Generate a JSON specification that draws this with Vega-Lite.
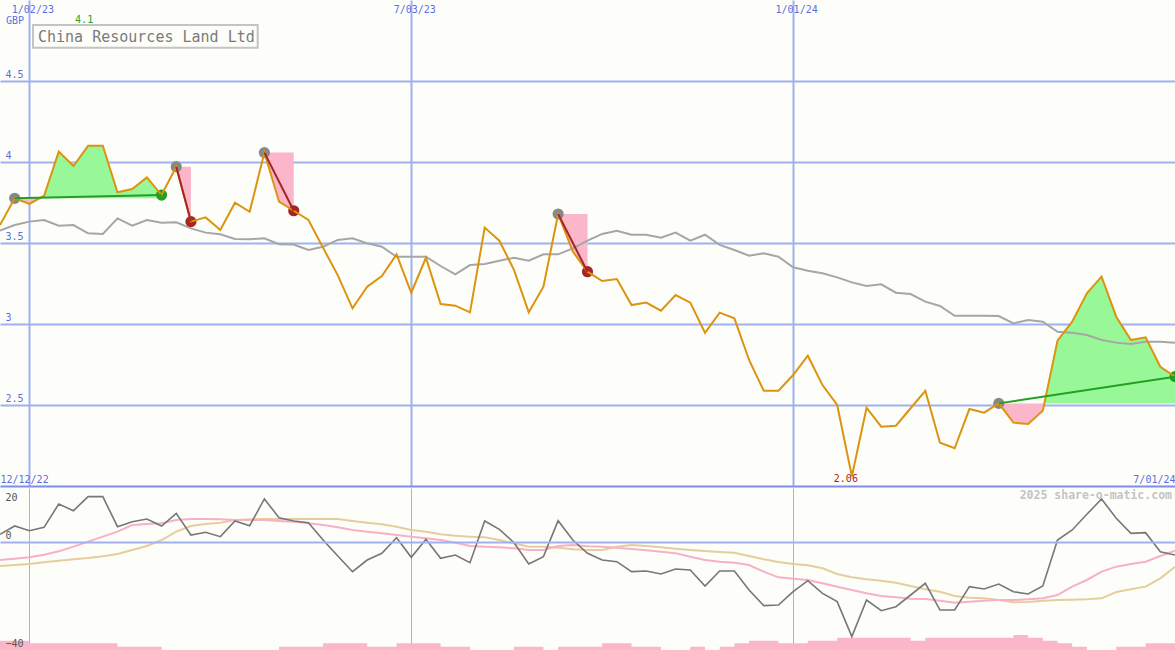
{
  "$schema": "https://vega.github.io/schema/vega-lite/v6.json",
  "background": "#fdfef9",
  "padding": 0,
  "spacing": 2,
  "bounds": "flush",
  "config": {
    "view": {"stroke": null},
    "axis": {"domain": false, "ticks": false, "tickSize": 0, "labelFont": "DejaVu Sans Mono", "labelFontSize": 10, "labelColor": "#5b6ee1", "gridColor": "#a0b0f0", "labelOverlap": false, "titlePadding": 0, "minExtent": 0}
  },
  "datasets": {
    "weekly": [
      {"d":"2022-12-19","price":3.611,"ma":3.576,"osc":2.84,"s1":-6.67,"s2":-8.89,"vol":28},
      {"d":"2022-12-26","price":3.776,"ma":3.611,"osc":5.93,"s1":-6.17,"s2":-8.52,"vol":28},
      {"d":"2023-01-02","price":3.741,"ma":3.632,"osc":4.2,"s1":-5.68,"s2":-8.15,"vol":20},
      {"d":"2023-01-09","price":3.792,"ma":3.642,"osc":5.43,"s1":-4.69,"s2":-7.53,"vol":20},
      {"d":"2023-01-16","price":4.064,"ma":3.607,"osc":14.07,"s1":-3.46,"s2":-6.91,"vol":20},
      {"d":"2023-01-23","price":3.975,"ma":3.611,"osc":11.6,"s1":-1.73,"s2":-6.42,"vol":20},
      {"d":"2023-01-30","price":4.1,"ma":3.56,"osc":16.79,"s1":0.12,"s2":-5.93,"vol":20},
      {"d":"2023-02-06","price":4.1,"ma":3.556,"osc":16.79,"s1":1.98,"s2":-5.31,"vol":20},
      {"d":"2023-02-13","price":3.813,"ma":3.652,"osc":5.68,"s1":3.83,"s2":-4.44,"vol":10},
      {"d":"2023-02-20","price":3.833,"ma":3.607,"osc":7.53,"s1":6.3,"s2":-2.96,"vol":10},
      {"d":"2023-02-27","price":3.905,"ma":3.642,"osc":8.52,"s1":6.67,"s2":-1.48,"vol":10},
      {"d":"2023-03-06","price":3.796,"ma":3.625,"osc":5.93,"s1":6.91,"s2":0.74,"vol":0},
      {"d":"2023-03-13","price":3.971,"ma":3.628,"osc":10.62,"s1":8.15,"s2":3.83,"vol":0},
      {"d":"2023-03-20","price":3.632,"ma":3.59,"osc":2.59,"s1":8.52,"s2":5.93,"vol":0},
      {"d":"2023-03-27","price":3.658,"ma":3.564,"osc":3.58,"s1":8.52,"s2":6.67,"vol":0},
      {"d":"2023-04-03","price":3.58,"ma":3.554,"osc":1.98,"s1":8.4,"s2":7.16,"vol":0},
      {"d":"2023-04-10","price":3.749,"ma":3.525,"osc":7.78,"s1":8.15,"s2":8.15,"vol":0},
      {"d":"2023-04-17","price":3.693,"ma":3.523,"osc":6.05,"s1":8.15,"s2":8.4,"vol":0},
      {"d":"2023-04-24","price":4.058,"ma":3.529,"osc":15.93,"s1":8.15,"s2":8.52,"vol":0},
      {"d":"2023-05-01","price":3.755,"ma":3.492,"osc":9.01,"s1":7.78,"s2":8.52,"vol":10},
      {"d":"2023-05-08","price":3.699,"ma":3.49,"osc":7.78,"s1":7.53,"s2":8.52,"vol":10},
      {"d":"2023-05-15","price":3.642,"ma":3.457,"osc":7.16,"s1":6.91,"s2":8.52,"vol":10},
      {"d":"2023-05-22","price":3.47,"ma":3.477,"osc":0.74,"s1":6.3,"s2":8.52,"vol":20},
      {"d":"2023-05-29","price":3.3,"ma":3.519,"osc":-5.19,"s1":5.43,"s2":8.52,"vol":20},
      {"d":"2023-06-05","price":3.097,"ma":3.529,"osc":-10.99,"s1":4.44,"s2":7.78,"vol":20},
      {"d":"2023-06-12","price":3.23,"ma":3.498,"osc":-6.67,"s1":3.83,"s2":7.16,"vol":10},
      {"d":"2023-06-19","price":3.296,"ma":3.477,"osc":-4.2,"s1":3.21,"s2":6.54,"vol":10},
      {"d":"2023-06-26","price":3.43,"ma":3.415,"osc":1.6,"s1":2.59,"s2":5.68,"vol":20},
      {"d":"2023-07-03","price":3.193,"ma":3.415,"osc":-5.68,"s1":1.98,"s2":4.44,"vol":20},
      {"d":"2023-07-10","price":3.409,"ma":3.415,"osc":0.99,"s1":1.36,"s2":3.83,"vol":20},
      {"d":"2023-07-17","price":3.123,"ma":3.358,"osc":-6.05,"s1":0.74,"s2":2.84,"vol":10},
      {"d":"2023-07-24","price":3.113,"ma":3.307,"osc":-4.81,"s1":-0.25,"s2":2.35,"vol":10},
      {"d":"2023-07-31","price":3.072,"ma":3.364,"osc":-7.65,"s1":-1.48,"s2":1.98,"vol":0},
      {"d":"2023-08-07","price":3.595,"ma":3.37,"osc":7.78,"s1":-1.73,"s2":1.73,"vol":0},
      {"d":"2023-08-14","price":3.514,"ma":3.391,"osc":4.69,"s1":-1.98,"s2":0.74,"vol":0},
      {"d":"2023-08-21","price":3.333,"ma":3.409,"osc":-0.25,"s1":-2.35,"s2":-0.49,"vol":10},
      {"d":"2023-08-28","price":3.072,"ma":3.391,"osc":-8.15,"s1":-2.96,"s2":-1.73,"vol":10},
      {"d":"2023-09-04","price":3.23,"ma":3.43,"osc":-5.43,"s1":-2.96,"s2":-1.73,"vol":0},
      {"d":"2023-09-11","price":3.679,"ma":3.43,"osc":7.9,"s1":-1.48,"s2":-2.1,"vol":10},
      {"d":"2023-09-18","price":3.447,"ma":3.467,"osc":0.74,"s1":-1.11,"s2":-2.72,"vol":10},
      {"d":"2023-09-25","price":3.323,"ma":3.515,"osc":-4.2,"s1":-1.55,"s2":-3.0,"vol":10},
      {"d":"2023-10-02","price":3.265,"ma":3.556,"osc":-6.67,"s1":-1.73,"s2":-2.96,"vol":20},
      {"d":"2023-10-09","price":3.278,"ma":3.576,"osc":-7.28,"s1":-2.1,"s2":-1.73,"vol":20},
      {"d":"2023-10-16","price":3.117,"ma":3.551,"osc":-10.99,"s1":-2.59,"s2":-1.11,"vol":10},
      {"d":"2023-10-23","price":3.132,"ma":3.551,"osc":-10.74,"s1":-3.09,"s2":-1.48,"vol":10},
      {"d":"2023-10-30","price":3.082,"ma":3.533,"osc":-11.85,"s1":-3.58,"s2":-1.98,"vol":0},
      {"d":"2023-11-06","price":3.179,"ma":3.564,"osc":-10.0,"s1":-4.2,"s2":-2.47,"vol":0},
      {"d":"2023-11-13","price":3.132,"ma":3.514,"osc":-10.37,"s1":-5.43,"s2":-2.96,"vol":10},
      {"d":"2023-11-20","price":2.946,"ma":3.551,"osc":-16.3,"s1":-6.67,"s2":-3.33,"vol":0},
      {"d":"2023-11-27","price":3.07,"ma":3.488,"osc":-10.74,"s1":-7.28,"s2":-3.7,"vol":10},
      {"d":"2023-12-04","price":3.035,"ma":3.457,"osc":-10.74,"s1":-7.65,"s2":-3.95,"vol":20},
      {"d":"2023-12-11","price":2.778,"ma":3.422,"osc":-17.78,"s1":-8.52,"s2":-5.19,"vol":28},
      {"d":"2023-12-18","price":2.588,"ma":3.436,"osc":-23.58,"s1":-10.99,"s2":-6.42,"vol":28},
      {"d":"2023-12-25","price":2.588,"ma":3.415,"osc":-23.33,"s1":-13.09,"s2":-7.41,"vol":20},
      {"d":"2024-01-01","price":2.685,"ma":3.35,"osc":-18.4,"s1":-13.58,"s2":-8.15,"vol":20},
      {"d":"2024-01-08","price":2.804,"ma":3.329,"osc":-14.32,"s1":-14.07,"s2":-8.64,"vol":28},
      {"d":"2024-01-15","price":2.623,"ma":3.313,"osc":-19.01,"s1":-15.31,"s2":-9.75,"vol":28},
      {"d":"2024-01-22","price":2.5,"ma":3.288,"osc":-22.1,"s1":-16.54,"s2":-11.85,"vol":37},
      {"d":"2024-01-29","price":2.06,"ma":3.257,"osc":-35.06,"s1":-17.78,"s2":-13.09,"vol":37},
      {"d":"2024-02-05","price":2.483,"ma":3.235,"osc":-21.48,"s1":-19.01,"s2":-13.83,"vol":37},
      {"d":"2024-02-12","price":2.366,"ma":3.245,"osc":-25.43,"s1":-20.0,"s2":-14.32,"vol":37},
      {"d":"2024-02-19","price":2.372,"ma":3.193,"osc":-23.95,"s1":-20.49,"s2":-15.06,"vol":37},
      {"d":"2024-02-26","price":2.48,"ma":3.185,"osc":-19.63,"s1":-20.99,"s2":-16.3,"vol":28},
      {"d":"2024-03-04","price":2.588,"ma":3.138,"osc":-15.31,"s1":-21.11,"s2":-17.53,"vol":37},
      {"d":"2024-03-11","price":2.267,"ma":3.111,"osc":-25.19,"s1":-21.73,"s2":-18.4,"vol":37},
      {"d":"2024-03-18","price":2.233,"ma":3.051,"osc":-25.19,"s1":-22.47,"s2":-20.0,"vol":37},
      {"d":"2024-03-25","price":2.475,"ma":3.051,"osc":-16.54,"s1":-22.1,"s2":-20.62,"vol":37},
      {"d":"2024-04-01","price":2.453,"ma":3.051,"osc":-17.41,"s1":-21.73,"s2":-20.86,"vol":37},
      {"d":"2024-04-08","price":2.51,"ma":3.049,"osc":-15.56,"s1":-21.48,"s2":-21.48,"vol":37},
      {"d":"2024-04-15","price":2.391,"ma":3.004,"osc":-18.4,"s1":-21.48,"s2":-22.35,"vol":45},
      {"d":"2024-04-22","price":2.383,"ma":3.025,"osc":-19.26,"s1":-21.23,"s2":-22.22,"vol":37},
      {"d":"2024-04-29","price":2.465,"ma":3.014,"osc":-16.3,"s1":-20.86,"s2":-21.73,"vol":28},
      {"d":"2024-05-06","price":2.897,"ma":2.952,"osc":0.74,"s1":-19.63,"s2":-21.48,"vol":20},
      {"d":"2024-05-13","price":3.014,"ma":2.946,"osc":4.44,"s1":-16.54,"s2":-21.36,"vol":10},
      {"d":"2024-05-20","price":3.189,"ma":2.932,"osc":10.25,"s1":-14.07,"s2":-21.23,"vol":0},
      {"d":"2024-05-27","price":3.292,"ma":2.901,"osc":15.93,"s1":-10.99,"s2":-20.86,"vol":0},
      {"d":"2024-06-03","price":3.045,"ma":2.885,"osc":8.77,"s1":-9.14,"s2":-18.52,"vol":10},
      {"d":"2024-06-10","price":2.901,"ma":2.877,"osc":3.21,"s1":-8.15,"s2":-17.53,"vol":10},
      {"d":"2024-06-17","price":2.918,"ma":2.891,"osc":3.46,"s1":-7.28,"s2":-16.54,"vol":20},
      {"d":"2024-06-24","price":2.736,"ma":2.891,"osc":-3.58,"s1":-5.19,"s2":-13.46,"vol":20},
      {"d":"2024-07-01","price":2.675,"ma":2.885,"osc":-4.81,"s1":-3.21,"s2":-9.14,"vol":20}
    ],
    "fills": [
      {"d":"2022-12-26","hi":3.776,"lo":3.776,"kind":"down","zone":"A"},
      {"d":"2023-01-02","hi":3.776,"lo":3.741,"kind":"down","zone":"A"},
      {"d":"2023-01-06T19:12:00Z","hi":3.776,"lo":3.776,"kind":"down","zone":"A"},
      {"d":"2023-01-06T19:12:00Z","hi":3.776,"lo":3.776,"kind":"up","zone":"A"},
      {"d":"2023-01-09","hi":3.792,"lo":3.776,"kind":"up","zone":"A"},
      {"d":"2023-01-16","hi":4.064,"lo":3.776,"kind":"up","zone":"A"},
      {"d":"2023-01-23","hi":3.975,"lo":3.776,"kind":"up","zone":"A"},
      {"d":"2023-01-30","hi":4.1,"lo":3.776,"kind":"up","zone":"A"},
      {"d":"2023-02-06","hi":4.1,"lo":3.776,"kind":"up","zone":"A"},
      {"d":"2023-02-13","hi":3.813,"lo":3.776,"kind":"up","zone":"A"},
      {"d":"2023-02-20","hi":3.833,"lo":3.776,"kind":"up","zone":"A"},
      {"d":"2023-02-27","hi":3.905,"lo":3.776,"kind":"up","zone":"A"},
      {"d":"2023-03-06","hi":3.796,"lo":3.776,"kind":"up","zone":"A"},
      {"d":"2023-03-13","hi":3.971,"lo":3.971,"kind":"down","zone":"B"},
      {"d":"2023-03-20","hi":3.971,"lo":3.632,"kind":"down","zone":"B"},
      {"d":"2023-04-24","hi":4.058,"lo":4.058,"kind":"down","zone":"C"},
      {"d":"2023-05-01","hi":4.058,"lo":3.755,"kind":"down","zone":"C"},
      {"d":"2023-05-08","hi":4.058,"lo":3.699,"kind":"down","zone":"C"},
      {"d":"2023-09-11","hi":3.679,"lo":3.679,"kind":"down","zone":"D"},
      {"d":"2023-09-18","hi":3.679,"lo":3.447,"kind":"down","zone":"D"},
      {"d":"2023-09-25","hi":3.679,"lo":3.323,"kind":"down","zone":"D"},
      {"d":"2024-04-08","hi":2.51,"lo":2.51,"kind":"down","zone":"E"},
      {"d":"2024-04-15","hi":2.51,"lo":2.391,"kind":"down","zone":"E"},
      {"d":"2024-04-22","hi":2.51,"lo":2.383,"kind":"down","zone":"E"},
      {"d":"2024-04-29","hi":2.51,"lo":2.465,"kind":"down","zone":"E"},
      {"d":"2024-04-29T17:28:00Z","hi":2.51,"lo":2.51,"kind":"down","zone":"E"},
      {"d":"2024-04-29T17:28:00Z","hi":2.51,"lo":2.51,"kind":"up","zone":"E"},
      {"d":"2024-05-06","hi":2.897,"lo":2.51,"kind":"up","zone":"E"},
      {"d":"2024-05-13","hi":3.014,"lo":2.51,"kind":"up","zone":"E"},
      {"d":"2024-05-20","hi":3.189,"lo":2.51,"kind":"up","zone":"E"},
      {"d":"2024-05-27","hi":3.292,"lo":2.51,"kind":"up","zone":"E"},
      {"d":"2024-06-03","hi":3.045,"lo":2.51,"kind":"up","zone":"E"},
      {"d":"2024-06-10","hi":2.901,"lo":2.51,"kind":"up","zone":"E"},
      {"d":"2024-06-17","hi":2.918,"lo":2.51,"kind":"up","zone":"E"},
      {"d":"2024-06-24","hi":2.736,"lo":2.51,"kind":"up","zone":"E"},
      {"d":"2024-07-01","hi":2.675,"lo":2.51,"kind":"up","zone":"E"}
    ],
    "trends": [
      {"d":"2022-12-26","v":3.776,"kind":"up","zone":"A"},
      {"d":"2023-03-06","v":3.796,"kind":"up","zone":"A"},
      {"d":"2023-03-13","v":3.971,"kind":"down","zone":"B"},
      {"d":"2023-03-20","v":3.632,"kind":"down","zone":"B"},
      {"d":"2023-04-24","v":4.058,"kind":"down","zone":"C"},
      {"d":"2023-05-08","v":3.699,"kind":"down","zone":"C"},
      {"d":"2023-09-11","v":3.679,"kind":"down","zone":"D"},
      {"d":"2023-09-25","v":3.323,"kind":"down","zone":"D"},
      {"d":"2024-04-08","v":2.51,"kind":"up","zone":"E"},
      {"d":"2024-07-01","v":2.675,"kind":"up","zone":"E"}
    ],
    "marks": [
      {"d":"2022-12-26","v":3.776,"kind":"start"},
      {"d":"2023-03-06","v":3.796,"kind":"up"},
      {"d":"2023-03-13","v":3.971,"kind":"start"},
      {"d":"2023-03-20","v":3.632,"kind":"down"},
      {"d":"2023-04-24","v":4.058,"kind":"start"},
      {"d":"2023-05-08","v":3.699,"kind":"down"},
      {"d":"2023-09-11","v":3.679,"kind":"start"},
      {"d":"2023-09-25","v":3.323,"kind":"down"},
      {"d":"2024-04-08","v":2.51,"kind":"start"},
      {"d":"2024-07-01","v":2.675,"kind":"up"}
    ]
  },
  "vconcat": [
    {
      "width": 1175,
      "height": 486,
      "layer": [
        {
          "data": {"name": "fills"},
          "mark": {"type": "area", "opacity": 1, "clip": true},
          "encoding": {
            "x": {
              "field": "d", "type": "temporal",
              "scale": {"type": "utc", "nice": false, "domain": [1671408000000, 1719792000000]},
              "axis": {
                "orient": "top", "title": null, "grid": true, "gridWidth": 2,
                "values": [1672617600000, 1688342400000, 1704067200000],
                "labelExpr": "utcFormat(datum.value, '%-m/%d/%y')",
                "labelBaseline": "middle", "labelPadding": -9, "labelOffset": 3
              }
            },
            "y": {
              "field": "hi", "type": "quantitative", "stack": null,
              "scale": {"domain": [2, 5], "nice": false, "zero": false},
              "axis": {
                "values": [2, 2.5, 3, 3.5, 4, 4.5], "format": "~g",
                "labelExpr": "datum.value == 2 ? '' : datum.label",
                "grid": true, "gridWidth": 2,
                "gridColor": {"condition": {"test": "datum.value == 2", "value": "#7d8ef0"}, "value": "#a0b0f0"},
                "labelAlign": "left", "labelBaseline": "middle", "labelPadding": -5, "labelOffset": -7,
                "title": null
              }
            },
            "y2": {"field": "lo"},
            "color": {"field": "kind", "type": "nominal", "scale": {"domain": ["up", "down"], "range": ["#98f898", "#fbb6c9"]}, "legend": null},
            "detail": {"field": "zone"}
          }
        },
        {
          "data": {"name": "weekly"},
          "mark": {"type": "line", "color": "#a6a6a6", "strokeWidth": 2, "clip": true},
          "encoding": {
            "x": {"field": "d", "type": "temporal"},
            "y": {"field": "ma", "type": "quantitative"}
          }
        },
        {
          "data": {"name": "marks"},
          "mark": {"type": "circle", "size": 125, "opacity": 1, "clip": true},
          "encoding": {
            "x": {"field": "d", "type": "temporal"},
            "y": {"field": "v", "type": "quantitative"},
            "color": {"field": "kind", "type": "nominal", "scale": {"domain": ["start", "up", "down"], "range": ["#888888", "#22a022", "#a52525"]}, "legend": null}
          }
        },
        {
          "data": {"name": "weekly"},
          "mark": {"type": "line", "color": "#dc9410", "strokeWidth": 2, "clip": true},
          "encoding": {
            "x": {"field": "d", "type": "temporal"},
            "y": {"field": "price", "type": "quantitative"}
          }
        },
        {
          "data": {"name": "trends"},
          "mark": {"type": "line", "strokeWidth": 2, "clip": true},
          "encoding": {
            "x": {"field": "d", "type": "temporal"},
            "y": {"field": "v", "type": "quantitative"},
            "color": {"field": "kind", "type": "nominal", "scale": {"domain": ["up", "down"], "range": ["#22a022", "#a52525"]}, "legend": null},
            "detail": {"field": "zone"}
          }
        },
        {
          "data": {"values": [{"d": "2023-01-30", "v": 4.1}]},
          "mark": {"type": "text", "font": "DejaVu Sans Mono", "fontSize": 10, "color": "#2e9e2e", "align": "center", "baseline": "middle", "dx": -4},
          "encoding": {
            "x": {"field": "d", "type": "temporal"},
            "y": {"datum": 4.8765, "type": "quantitative"},
            "text": {"field": "v", "type": "quantitative", "format": "~g"}
          }
        },
        {
          "data": {"values": [{"d": "2024-01-29", "v": 2.06}]},
          "mark": {"type": "text", "font": "DejaVu Sans Mono", "fontSize": 10, "color": "#a52525", "align": "center", "baseline": "middle", "dx": -6},
          "encoding": {
            "x": {"field": "d", "type": "temporal"},
            "y": {"datum": 2.0432, "type": "quantitative"},
            "text": {"field": "v", "type": "quantitative", "format": "~g"}
          }
        },
        {
          "data": {"values": [{"t": "GBP"}]},
          "mark": {"type": "text", "font": "DejaVu Sans Mono", "fontSize": 10, "color": "#5b6ee1", "align": "left", "baseline": "middle", "dx": 6},
          "encoding": {
            "x": {"datum": 1671408000000, "type": "temporal"},
            "y": {"datum": 4.8704, "type": "quantitative"},
            "text": {"field": "t", "type": "nominal"}
          }
        },
        {
          "data": {"values": [{"t": "China Resources Land Ltd"}]},
          "mark": {"type": "rect", "fill": "transparent", "stroke": "#c4c4c4", "strokeWidth": 2},
          "encoding": {
            "x": {"datum": 1672766870000, "type": "temporal"},
            "x2": {"datum": 1682019538000},
            "y": {"datum": 4.8457, "type": "quantitative"},
            "y2": {"datum": 4.7056}
          }
        },
        {
          "data": {"values": [{"t": "China Resources Land Ltd"}]},
          "mark": {"type": "text", "font": "DejaVu Sans Mono", "fontSize": 15, "color": "#7a7a7a", "align": "left", "baseline": "alphabetic"},
          "encoding": {
            "x": {"datum": 1672972759000, "type": "temporal"},
            "y": {"datum": 4.7438, "type": "quantitative"},
            "text": {"field": "t", "type": "nominal"}
          }
        }
      ],
      "resolve": {"scale": {"color": "independent"}}
    },
    {
      "width": 1175,
      "height": 162,
      "layer": [
        {
          "data": {"name": "weekly"},
          "mark": {"type": "area", "interpolate": "step-after", "color": "#fbb6c9", "opacity": 1, "clip": true},
          "encoding": {
            "x": {
              "field": "d", "type": "temporal",
              "scale": {"type": "utc", "nice": false, "domain": [1671408000000, 1719792000000]},
              "axis": {
                "orient": "top", "title": null, "grid": true, "gridWidth": 1,
                "gridColor": {"condition": {"test": "datum.value < 1672000000000 || datum.value > 1719000000000", "value": "transparent"}, "value": "#a0b0f0"},
                "values": [1671408000000, 1672617600000, 1688342400000, 1704067200000, 1719792000000],
                "labelExpr": "datum.value < 1672000000000 ? '12/12/22' : (datum.value > 1719000000000 ? '7/01/24' : '')",
                "labelFlush": true, "labelBaseline": "middle", "labelPadding": 9
              }
            },
            "y": {"field": "vol", "type": "quantitative", "scale": {"domain": [0, 486], "nice": false}, "axis": null}
          }
        },
        {
          "data": {"name": "weekly"},
          "layer": [
            {
              "mark": {"type": "line", "color": "#e6cd9e", "strokeWidth": 2, "clip": true},
              "encoding": {
                "x": {"field": "d", "type": "temporal"},
                "y": {
                  "field": "s2", "type": "quantitative", "scale": {"domain": [-40, 20], "nice": false, "zero": false},
                  "axis": {
                    "orient": "left", "title": null, "values": [-40, 0, 20], "grid": true, "gridWidth": 2, "zindex": 1,
                    "gridColor": {"condition": {"test": "datum.value == 0", "value": "#a0b0f0"}, "value": "transparent"},
                    "labelColor": "#555555", "labelAlign": "left", "labelBaseline": "middle", "labelPadding": -5,
                    "labelOffset": {"condition": {"test": "datum.value == 20", "value": 9}, "value": -7}
                  }
                }
              }
            },
            {
              "mark": {"type": "line", "color": "#f8b0c6", "strokeWidth": 2, "clip": true},
              "encoding": {
                "x": {"field": "d", "type": "temporal"},
                "y": {"field": "s1", "type": "quantitative"}
              }
            },
            {
              "mark": {"type": "line", "color": "#777777", "strokeWidth": 1.6, "clip": true},
              "encoding": {
                "x": {"field": "d", "type": "temporal"},
                "y": {"field": "osc", "type": "quantitative"}
              }
            },
            {
              "data": {"values": [{"t": "2025 share-o-matic.com"}]},
              "mark": {"type": "text", "font": "DejaVu Sans Mono", "fontSize": 11.5, "fontWeight": "bold", "color": "#c4c4c4", "align": "right", "baseline": "middle", "dx": -3},
              "encoding": {
                "x": {"datum": 1719792000000, "type": "temporal"},
                "y": {"datum": 17.04, "type": "quantitative"},
                "text": {"field": "t", "type": "nominal"}
              }
            }
          ]
        }
      ],
      "resolve": {"scale": {"y": "independent"}}
    }
  ]
}
